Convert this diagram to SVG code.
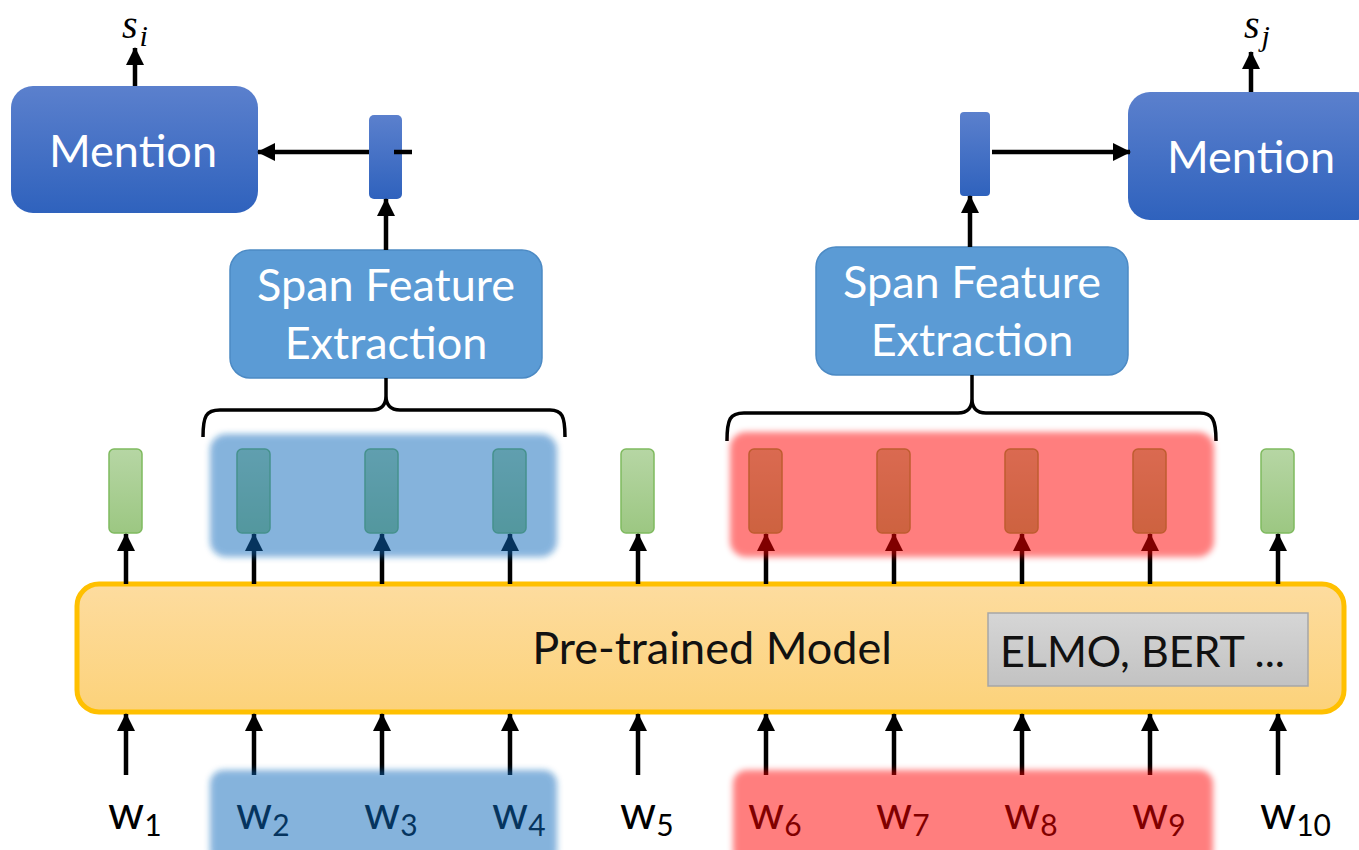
<svg xmlns="http://www.w3.org/2000/svg" width="1359" height="850" viewBox="0 0 1359 850">
<defs>
  <linearGradient id="gMention" x1="0" y1="0" x2="0" y2="1">
    <stop offset="0" stop-color="#5b80cd"/>
    <stop offset="1" stop-color="#2f62bd"/>
  </linearGradient>
  <linearGradient id="gGreen" x1="0" y1="0" x2="0" y2="1">
    <stop offset="0" stop-color="#b6d6a4"/>
    <stop offset="1" stop-color="#9cc782"/>
  </linearGradient>
  <linearGradient id="gModel" x1="0" y1="0" x2="0" y2="1">
    <stop offset="0" stop-color="#fddc9f"/>
    <stop offset="1" stop-color="#fcd27a"/>
  </linearGradient>
  <linearGradient id="gGray" x1="0" y1="0" x2="0" y2="1">
    <stop offset="0" stop-color="#d6d6d6"/>
    <stop offset="1" stop-color="#c2c2c2"/>
  </linearGradient>
  <filter id="blur" x="-10%" y="-20%" width="120%" height="140%">
    <feGaussianBlur stdDeviation="3"/>
  </filter>
  <marker id="arr" viewBox="0 0 18 18" refX="17" refY="9" markerWidth="18" markerHeight="18" markerUnits="userSpaceOnUse" orient="auto">
    <path d="M0,0 L18,9 L0,18 z" fill="#000"/>
  </marker>
  <style>
    .txt { font-family: Lato, "Open Sans", "Liberation Sans", sans-serif; }
    .wht { fill: #fff; }
    .mention { fill: url(#gMention); }
    .span { fill: #5b9bd5; stroke: #4c8ac4; stroke-width: 1.5; }
    .vec { fill: url(#gGreen); stroke: #7fba5f; stroke-width: 1.5; }
    .conn line { stroke: #000; stroke-width: 4.5; marker-end: url(#arr); }
    .brace { fill: none; stroke: #000; stroke-width: 3.5; }
    .hlb { fill: rgb(12,105,187); opacity: 0.5; filter: url(#blur); }
    .hlr { fill: rgb(255,0,0); opacity: 0.5; filter: url(#blur); }
    .w { font-family: Lato, "Open Sans", "Liberation Sans", sans-serif; font-size: 46px; fill: #000; }
    .sub { font-size: 30px; }
    .math { font-family: "Liberation Serif", "DejaVu Serif", serif; font-style: italic; fill: #000; }
  </style>
</defs>

<!-- Pre-trained model -->
<g id="model">
  <rect x="77" y="584" width="1267" height="128" rx="22" fill="url(#gModel)" stroke="#ffc000" stroke-width="5"/>
  <text class="txt" x="712" y="664" font-size="45" text-anchor="middle" fill="#111">Pre-trained Model</text>
</g>
<g id="elmo">
  <rect x="988" y="613" width="320" height="73" fill="url(#gGray)" stroke="#a6a6a6" stroke-width="1.5"/>
  <text class="txt" x="1000" y="667" font-size="43" fill="#111">ELMO, BERT ...</text>
</g>

<!-- token vectors -->
<g id="vectors">
  <rect class="vec" x="109" y="449" width="33" height="84" rx="5"/>
  <rect class="vec" x="237" y="449" width="33" height="84" rx="5"/>
  <rect class="vec" x="365" y="449" width="33" height="84" rx="5"/>
  <rect class="vec" x="493" y="449" width="33" height="84" rx="5"/>
  <rect class="vec" x="621" y="449" width="33" height="84" rx="5"/>
  <rect class="vec" x="749" y="449" width="33" height="84" rx="5"/>
  <rect class="vec" x="877" y="449" width="33" height="84" rx="5"/>
  <rect class="vec" x="1005" y="449" width="33" height="84" rx="5"/>
  <rect class="vec" x="1133" y="449" width="33" height="84" rx="5"/>
  <rect class="vec" x="1261" y="449" width="33" height="84" rx="5"/>
</g>

<!-- span feature extraction -->
<g id="span-left">
  <rect class="span" x="230" y="250" width="312" height="128" rx="20"/>
  <text class="txt wht" x="386" y="301" font-size="45" text-anchor="middle">Span Feature</text>
  <text class="txt wht" x="386" y="359" font-size="45" text-anchor="middle">Extraction</text>
</g>
<g id="span-right">
  <rect class="span" x="816" y="247" width="312" height="128" rx="20"/>
  <text class="txt wht" x="972" y="298" font-size="45" text-anchor="middle">Span Feature</text>
  <text class="txt wht" x="972" y="356" font-size="45" text-anchor="middle">Extraction</text>
</g>

<!-- braces -->
<g id="braces">
  <path class="brace" d="M203,437 C203,416 206,410 220,410 L372,410 C382,410 386,404 386,396 L386,378 M386,396 C386,404 390,410 400,410 L550,410 C562,410 565,416 565,437"/>
  <path class="brace" d="M727,441 C727,419 730,413 744,413 L958,413 C968,413 972,407 972,399 L972,375 M972,399 C972,407 976,413 986,413 L1200,413 C1212,413 1216,419 1216,441"/>
</g>

<!-- mention boxes and span vectors -->
<g id="mention-left">
  <rect class="mention" x="11" y="86" width="247" height="127" rx="22"/>
  <text class="txt wht" x="133" y="167" font-size="45" text-anchor="middle">Mention</text>
</g>
<g id="mention-right">
  <rect class="mention" x="1128" y="92" width="250" height="128" rx="22"/>
  <text class="txt wht" x="1251" y="173" font-size="45" text-anchor="middle">Mention</text>
</g>
<g id="spanvec-left">
  <rect class="mention" x="369" y="115" width="33" height="84" rx="5"/>
</g>
<g id="spanvec-right">
  <rect class="mention" x="960" y="112" width="30" height="84" rx="4"/>
</g>

<!-- score labels -->
<g id="score-i">
  <text class="math" x="122" y="38" font-size="40">s<tspan font-size="30" dx="2" dy="8">i</tspan></text>
</g>
<g id="score-j">
  <text class="math" x="1244" y="38" font-size="40">s<tspan font-size="30" dx="2" dy="8">j</tspan></text>
</g>

<!-- connectors -->
<g id="connectors" class="conn">
  <line x1="135" y1="86" x2="135" y2="48"/>
  <line x1="1251" y1="92" x2="1251" y2="52"/>
  <line x1="369" y1="152" x2="258" y2="152"/>
  <line x1="394" y1="152" x2="412" y2="152" style="marker-end:none"/>
  <line x1="992" y1="152" x2="1130" y2="152"/>
  <line x1="386" y1="250" x2="386" y2="199"/>
  <line x1="970" y1="247" x2="970" y2="196"/>
  <line x1="126" y1="584" x2="126" y2="534"/>
  <line x1="254" y1="584" x2="254" y2="534"/>
  <line x1="382" y1="584" x2="382" y2="534"/>
  <line x1="510" y1="584" x2="510" y2="534"/>
  <line x1="638" y1="584" x2="638" y2="534"/>
  <line x1="766" y1="584" x2="766" y2="534"/>
  <line x1="894" y1="584" x2="894" y2="534"/>
  <line x1="1022" y1="584" x2="1022" y2="534"/>
  <line x1="1150" y1="584" x2="1150" y2="534"/>
  <line x1="1278" y1="584" x2="1278" y2="534"/>
  <line x1="126" y1="775" x2="126" y2="714"/>
  <line x1="254" y1="775" x2="254" y2="714"/>
  <line x1="382" y1="775" x2="382" y2="714"/>
  <line x1="510" y1="775" x2="510" y2="714"/>
  <line x1="638" y1="775" x2="638" y2="714"/>
  <line x1="766" y1="775" x2="766" y2="714"/>
  <line x1="894" y1="775" x2="894" y2="714"/>
  <line x1="1022" y1="775" x2="1022" y2="714"/>
  <line x1="1150" y1="775" x2="1150" y2="714"/>
  <line x1="1278" y1="775" x2="1278" y2="714"/>
</g>

<!-- words -->
<g id="words">
  <text class="w" x="108" y="829">w<tspan class="sub" dy="7">1</tspan></text>
  <text class="w" x="236" y="829">w<tspan class="sub" dy="7">2</tspan></text>
  <text class="w" x="364" y="829">w<tspan class="sub" dy="7">3</tspan></text>
  <text class="w" x="492" y="829">w<tspan class="sub" dy="7">4</tspan></text>
  <text class="w" x="620" y="829">w<tspan class="sub" dy="7">5</tspan></text>
  <text class="w" x="748" y="829">w<tspan class="sub" dy="7">6</tspan></text>
  <text class="w" x="876" y="829">w<tspan class="sub" dy="7">7</tspan></text>
  <text class="w" x="1004" y="829">w<tspan class="sub" dy="7">8</tspan></text>
  <text class="w" x="1132" y="829">w<tspan class="sub" dy="7">9</tspan></text>
  <text class="w" x="1260" y="829">w<tspan class="sub" dy="7">10</tspan></text>
</g>

<!-- highlights -->
<g id="highlights">
  <rect class="hlb" x="210" y="434" width="347" height="123" rx="16"/>
  <rect class="hlr" x="730" y="432" width="484" height="125" rx="16"/>
  <rect class="hlb" x="210" y="770" width="347" height="95" rx="14"/>
  <rect class="hlr" x="733" y="770" width="480" height="95" rx="14"/>
</g>
</svg>
